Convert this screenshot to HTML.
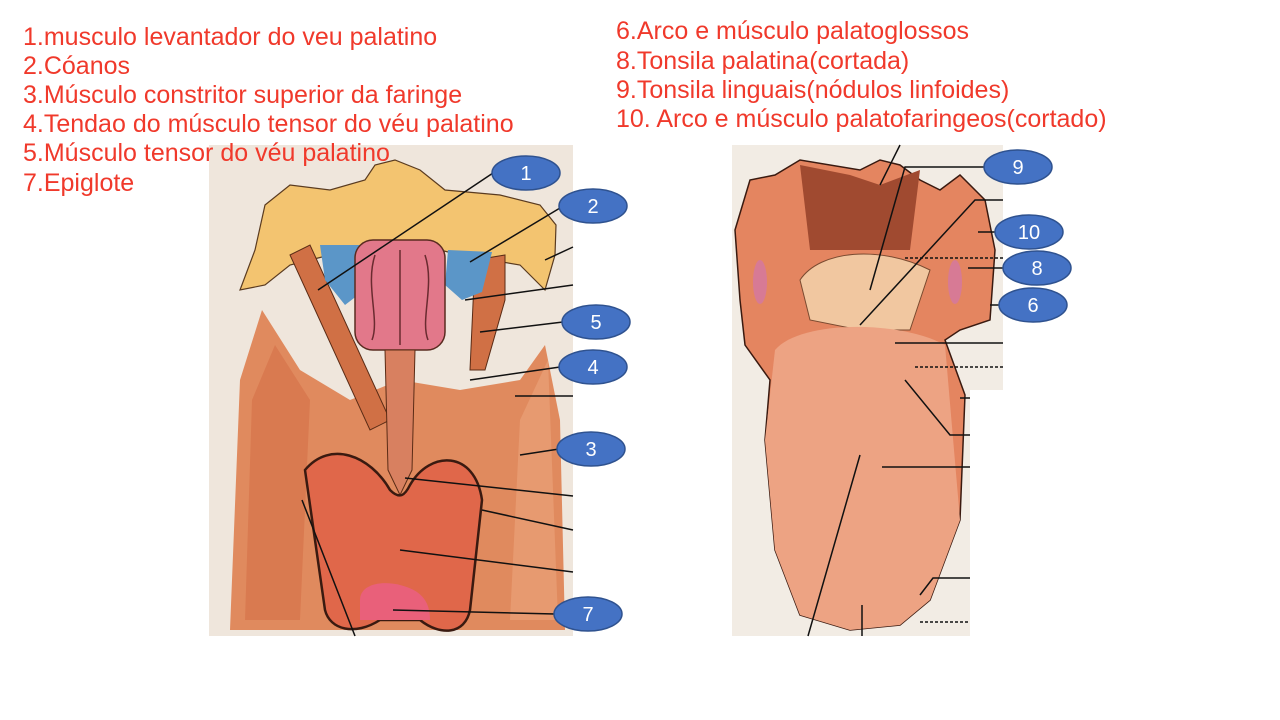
<!DOCTYPE html>
<html><head><meta charset="utf-8"><style>
html,body{margin:0;padding:0;background:#fff;width:1280px;height:720px;overflow:hidden}
svg{display:block}
text{font-family:"Liberation Sans",sans-serif}
</style></head><body>
<svg width="1280" height="720" viewBox="0 0 1280 720" xmlns="http://www.w3.org/2000/svg">
<rect x="209" y="145" width="364" height="491" fill="#efe6dc"/>
<path d="M230 630 L240 380 L262 310 L300 370 L350 400 L400 380 L460 390 L520 380 L545 345 L560 420 L565 630 Z" fill="#e08a5e"/>
<path d="M245 620 L252 400 L275 345 L310 400 L300 620 Z" fill="#d97a50"/>
<path d="M510 620 L520 420 L548 360 L558 620 Z" fill="#e79a70"/>
<path d="M240 290 L255 250 L265 205 L290 185 L330 190 L365 180 L375 165 L395 160 L420 170 L445 190 L500 195 L540 205 L556 225 L555 255 L545 290 L520 265 L460 255 L420 245 L380 245 L330 255 L290 265 L265 285 Z" fill="#f3c470" stroke="#5a3b20" stroke-width="1.2"/>
<path d="M290 255 L310 245 L390 420 L370 430 Z" fill="#d07045" stroke="#5a2b15"/>
<path d="M475 260 L505 255 L505 300 L485 370 L470 370 Z" fill="#d07045" stroke="#5a2b15"/>
<path d="M320 245 L360 245 L358 295 L345 305 L325 280 Z" fill="#5b96c8"/>
<path d="M448 250 L492 252 L482 292 L462 300 L445 285 Z" fill="#5b96c8"/>
<rect x="355" y="240" width="90" height="110" rx="18" fill="#e2788a" stroke="#5a2b20" stroke-width="1.5"/>
<path d="M375 255 C365 285 380 320 372 340 M425 255 C435 285 420 320 428 340 M400 250 L400 345" stroke="#6a2b30" fill="none" stroke-width="1.5"/>
<path d="M385 350 L415 350 L412 470 L400 495 L388 470 Z" fill="#d88060" stroke="#5a2b15"/>
<path d="M305 470 C330 440 370 455 390 490 C400 500 405 495 410 485 C430 450 475 450 482 500 L470 610 C465 635 440 636 420 620 L380 620 C355 636 330 630 325 610 Z" fill="#e0674a" stroke="#3a1a10" stroke-width="2.5"/>
<path d="M360 600 C360 585 380 580 400 585 C420 590 430 600 430 620 L360 620 Z" fill="#e9607a"/>
<rect x="732" y="145" width="271" height="245" fill="#f2ece4"/>
<rect x="732" y="390" width="238" height="246" fill="#f2ece4"/>
<path d="M740 300 L735 230 L750 180 L775 175 L800 160 L860 170 L880 160 L900 165 L920 180 L940 190 L960 175 L985 200 L995 250 L990 320 L960 330 L945 340 L965 395 L960 520 L930 600 L900 625 L850 630 L800 615 L775 550 L765 440 L770 380 L745 345 Z" fill="#e48560" stroke="#3a1a10" stroke-width="1.5"/>
<path d="M800 165 L810 250 L910 250 L920 170 L880 185 L850 175 Z" fill="#a04a30"/>
<path d="M800 280 C820 250 880 245 930 270 L910 330 L860 330 L810 320 Z" fill="#f1c7a0" stroke="#7a4a30"/>
<path d="M775 350 C800 320 900 320 945 345 L960 520 L930 600 L900 625 L850 630 L800 615 L775 550 L765 440 Z" fill="#eda383"/>
<ellipse cx="760" cy="282" rx="7" ry="22" fill="#d77a95"/>
<ellipse cx="955" cy="282" rx="7" ry="22" fill="#d77a95"/>
<g stroke="#111" stroke-width="1.5" fill="none">
<path d="M493 173 L318 290 M560 208 L470 262 M573 247 L545 260 M573 285 L465 300 M563 322 L480 332 M560 367 L470 380 M573 396 L515 396 M559 449 L520 455 M573 496 L405 478 M573 530 L482 510 M573 572 L400 550 M555 614 L393 610 M302 500 L355 636"/>
<path d="M900 145 L880 185 M986 167 L905 167 L870 290 M1003 200 L975 200 L860 325 M996 232 L978 232 M1004 268 L968 268 M1002 305 L990 305 M1003 343 L895 343 M970 398 L960 398 M970 435 L950 435 L905 380 M970 467 L882 467 M970 578 L933 578 L920 595 M860 455 L808 636 M862 605 L862 636"/>
<path d="M905 258 L1003 258 M915 367 L1003 367 M920 622 L970 622" stroke-dasharray="3 2"/>
</g>
<g fill="#4472c4" stroke="#2f528f" stroke-width="1.5">
<ellipse cx="526" cy="173" rx="34" ry="17"/><ellipse cx="593" cy="206" rx="34" ry="17"/>
<ellipse cx="596" cy="322" rx="34" ry="17"/><ellipse cx="593" cy="367" rx="34" ry="17"/>
<ellipse cx="591" cy="449" rx="34" ry="17"/><ellipse cx="588" cy="614" rx="34" ry="17"/>
<ellipse cx="1018" cy="167" rx="34" ry="17"/><ellipse cx="1029" cy="232" rx="34" ry="17"/>
<ellipse cx="1037" cy="268" rx="34" ry="17"/><ellipse cx="1033" cy="305" rx="34" ry="17"/>
</g>
<g fill="#fff" font-size="20" text-anchor="middle">
<text x="526" y="180">1</text><text x="593" y="213">2</text><text x="596" y="329">5</text>
<text x="593" y="374">4</text><text x="591" y="456">3</text><text x="588" y="621">7</text>
<text x="1018" y="174">9</text><text x="1029" y="239">10</text><text x="1037" y="275">8</text><text x="1033" y="312">6</text>
</g>
<g fill="#f0392b" font-size="25">
<text x="23" y="45">1.musculo levantador do veu palatino</text>
<text x="23" y="74">2.Cóanos</text>
<text x="23" y="103">3.Músculo constritor superior da faringe</text>
<text x="23" y="132">4.Tendao do músculo tensor do véu palatino</text>
<text x="23" y="161">5.Músculo tensor do véu palatino</text>
<text x="23" y="191">7.Epiglote</text>
<text x="616" y="39">6.Arco e músculo palatoglossos</text>
<text x="616" y="69">8.Tonsila palatina(cortada)</text>
<text x="616" y="98">9.Tonsila linguais(nódulos linfoides)</text>
<text x="616" y="127">10. Arco e músculo palatofaringeos(cortado)</text>
</g>
</svg>
</body></html>
